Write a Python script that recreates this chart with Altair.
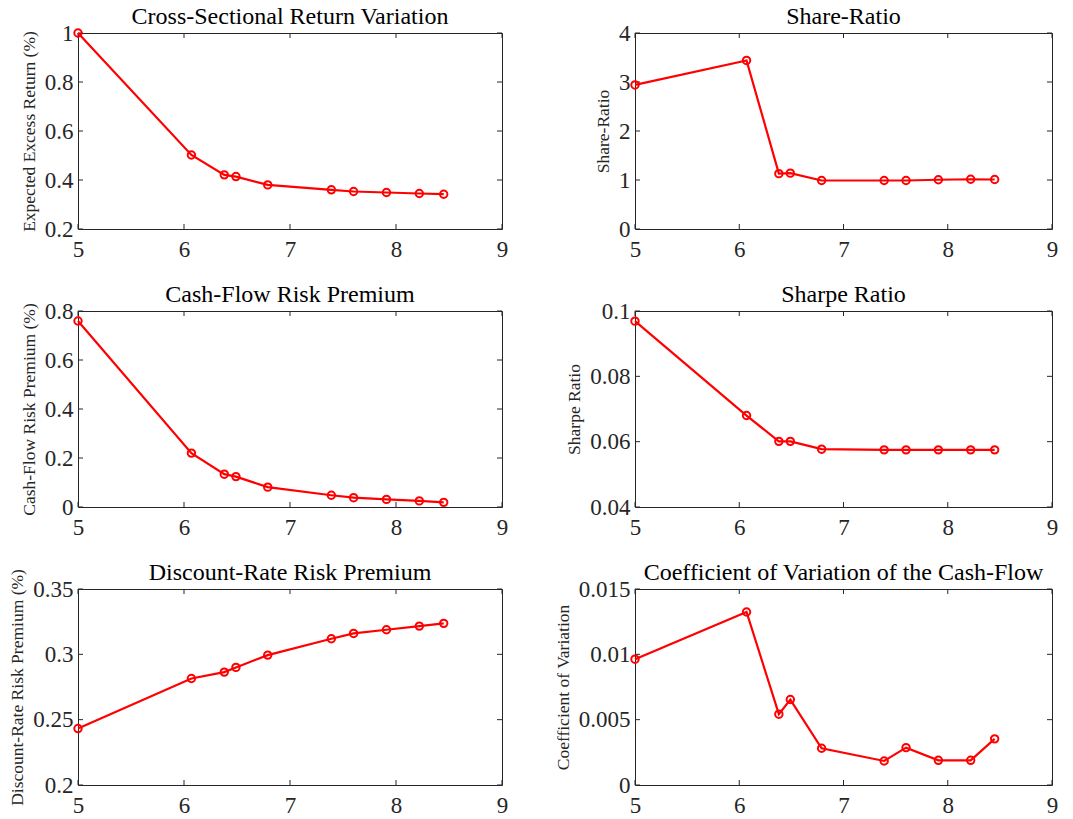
import altair as alt
import pandas as pd

# ---- data ----
x_vals = [5.0, 6.07, 6.38, 6.49, 6.79, 7.39, 7.60, 7.91, 8.22, 8.45]

excess_return = [1.0, 0.502, 0.421, 0.414, 0.380, 0.360, 0.353, 0.349, 0.345, 0.342]
share_ratio = [2.94, 3.44, 1.13, 1.14, 0.99, 0.99, 0.99, 1.005, 1.015, 1.01]
cf_premium = [0.759, 0.220, 0.134, 0.124, 0.081, 0.048, 0.038, 0.031, 0.025, 0.019]
sharpe = [0.0969, 0.0680, 0.0601, 0.0601, 0.0577, 0.0575, 0.0575, 0.0575, 0.0575, 0.0575]
dr_premium = [0.2432, 0.2815, 0.2864, 0.2900, 0.2994, 0.3119, 0.3160, 0.3188, 0.3216, 0.3237]
coef_var = [0.00963, 0.01324, 0.00542, 0.00654, 0.00281, 0.00184, 0.00286, 0.00189, 0.00189, 0.00353]

x_ticks = [5, 6, 7, 8, 9]

titles = ["Cross-Sectional Return Variation", "Share-Ratio", "Cash-Flow Risk Premium",
          "Sharpe Ratio", "Discount-Rate Risk Premium", "Coefficient of Variation of the Cash-Flow"]
y_titles = ["Expected Excess Return (%)", "Share-Ratio", "Cash-Flow Risk Premium (%)",
            "Sharpe Ratio", "Discount-Rate Risk Premium (%)", "Coefficient of Variation"]
series = [excess_return, share_ratio, cf_premium, sharpe, dr_premium, coef_var]
y_domains = [[0.2, 1.0], [0, 4], [0, 0.8], [0.04, 0.1], [0.2, 0.35], [0, 0.015]]
y_tick_sets = [[0.2, 0.4, 0.6, 0.8, 1.0], [0, 1, 2, 3, 4], [0, 0.2, 0.4, 0.6, 0.8],
               [0.04, 0.06, 0.08, 0.1], [0.2, 0.25, 0.3, 0.35], [0, 0.005, 0.01, 0.015]]
title_offsets = [-7, -7, -7, -7, -16, -7]

FONT = "Liberation Serif"
RED = "#ff0000"
AX = "#262626"
H = 196
TL = 5


def panel(i, width):
    df = pd.DataFrame({"x": x_vals, "y": series[i]})
    xs = alt.Scale(domain=[5, 9], nice=False, zero=False)
    ys = alt.Scale(domain=y_domains[i], nice=False, zero=False)
    xax = alt.Axis(values=x_ticks, title=None, labelExpr="'' + datum.value",
                   labelFlush=False, labelOverlap=False, labelPadding=9)
    yax = alt.Axis(values=y_tick_sets[i], title=y_titles[i], labelExpr="'' + datum.value",
                   labelFlush=False, labelOverlap=False)
    X = alt.X("x:Q", scale=xs, axis=xax)
    Y = alt.Y("y:Q", scale=ys, axis=yax)

    base = alt.Chart(df)
    line = base.mark_line(color=RED, strokeWidth=2.2).encode(x=X, y=Y)
    pts = base.mark_point(shape="circle", color=RED, size=55, strokeWidth=2,
                          filled=False, opacity=1).encode(x=X, y=Y)

    xt = alt.Chart(pd.DataFrame({"x": x_ticks}))
    yt = alt.Chart(pd.DataFrame({"y": y_tick_sets[i]}))
    xb = xt.mark_rule(color=AX, strokeWidth=1).encode(x=X, y=alt.value(H), y2=alt.value(H - TL))
    xtp = xt.mark_rule(color=AX, strokeWidth=1).encode(x=X, y=alt.value(0), y2=alt.value(TL))
    yl = yt.mark_rule(color=AX, strokeWidth=1).encode(y=Y, x=alt.value(0), x2=alt.value(TL))
    yr = yt.mark_rule(color=AX, strokeWidth=1).encode(y=Y, x=alt.value(width - TL), x2=alt.value(width))

    return alt.layer(xb, xtp, yl, yr, line, pts).properties(
        width=width, height=H,
        title=alt.TitleParams(titles[i], font=FONT, fontSize=24, fontWeight="normal",
                              color="#000000", offset=title_offsets[i]),
    )


panels = [panel(i, 424 if i % 2 == 0 else 417) for i in range(6)]

chart = alt.concat(*panels, columns=2, bounds="flush",
                   spacing=alt.RowColnumber(row=82, column=133)).properties(
    padding={"left": 8, "top": 4, "right": 5, "bottom": 2},
    background="white",
).configure_axis(
    labelFont=FONT, labelFontSize=23, labelColor=AX, labelPadding=5,
    titleFont=FONT, titleFontSize=17.5, titleFontWeight="normal", titleColor=AX, titlePadding=6,
    grid=False, ticks=False, domain=False,
).configure_view(stroke=AX, strokeWidth=1)

chart.save("out.html", embed_options={"renderer": "svg", "actions": False})
